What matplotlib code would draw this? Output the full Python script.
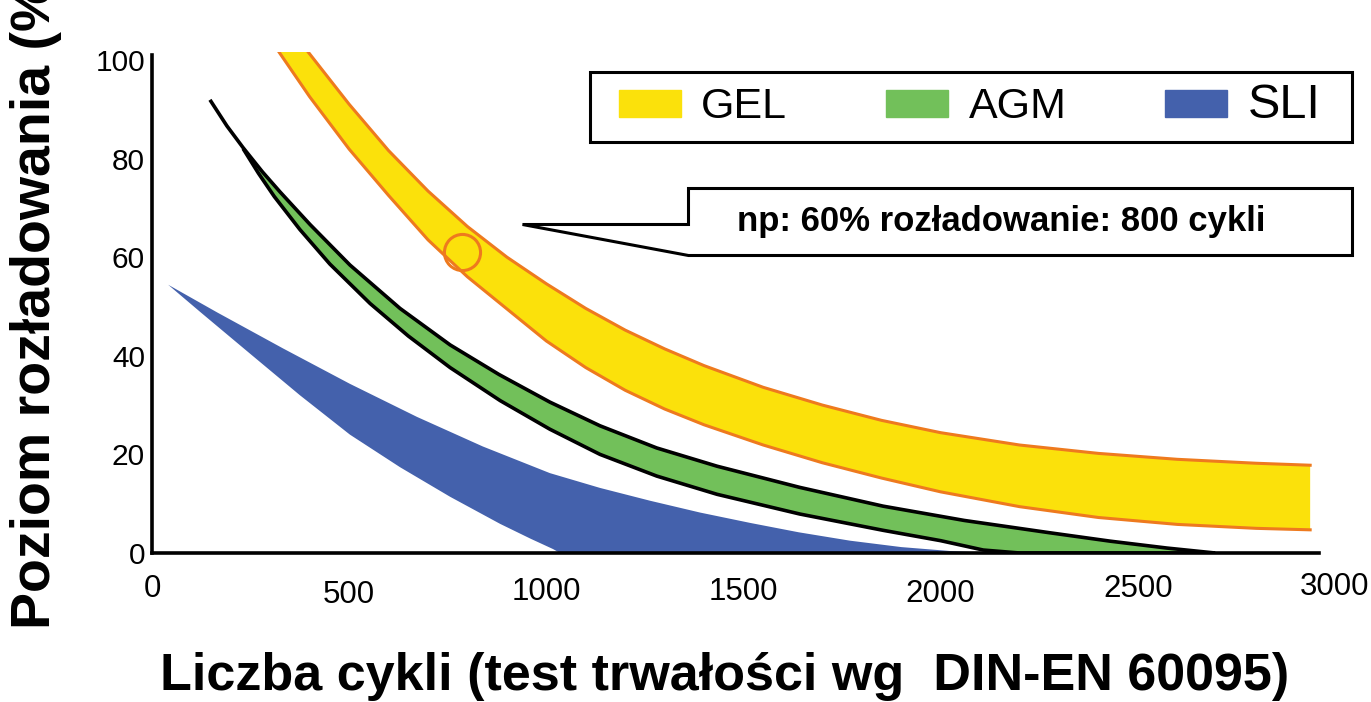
import matplotlib
matplotlib.use("Agg")
import matplotlib.pyplot as plt
from matplotlib.patches import Patch, Polygon, Rectangle

plt.rcParams["font.family"] = ["Liberation Sans", "DejaVu Sans"]

# (x: cykle, y: %)
gel_low_x = [322, 400, 500, 600, 700, 800, 900, 1000, 1100, 1200, 1300, 1400, 1550, 1700, 1850, 2000, 2200, 2400, 2600, 2800, 2937]
gel_low_y = [101.6, 92.5, 81.9, 72.5, 63.5, 56.0, 49.5, 43.0, 37.6, 33.0, 29.2, 26.0, 21.9, 18.3, 15.2, 12.4, 9.4, 7.2, 5.8, 5.0, 4.7]
gel_up_x = [396, 500, 600, 700, 800, 900, 1000, 1100, 1200, 1300, 1400, 1550, 1700, 1850, 2000, 2200, 2400, 2600, 2800, 2937]
gel_up_y = [101.6, 91.0, 81.6, 73.4, 66.2, 60.0, 54.6, 49.6, 45.2, 41.4, 38.0, 33.6, 30.0, 26.9, 24.4, 21.9, 20.2, 19.0, 18.2, 17.8]

agm_up_x = [147, 190, 231, 280, 325, 401, 502, 629, 756, 880, 1009, 1136, 1280, 1433, 1643, 1854, 2060, 2277, 2430, 2574, 2696]
agm_up_y = [91.9, 86.6, 82.2, 77.3, 73.2, 66.6, 58.4, 49.6, 42.2, 36.2, 30.6, 25.8, 21.3, 17.6, 13.3, 9.5, 6.6, 4.1, 2.4, 1.0, 0.0]
agm_low_x = [231, 270, 310, 375, 451, 553, 650, 756, 883, 1009, 1136, 1280, 1433, 1643, 1854, 2000, 2108, 2200, 2300, 2696]
agm_low_y = [82.0, 77.0, 72.3, 65.6, 58.6, 50.6, 44.0, 37.6, 30.9, 25.1, 20.0, 15.6, 11.9, 7.9, 4.6, 2.5, 0.6, 0.0, 0.0, 0.0]

sli_up_x = [41, 165, 332, 502, 672, 839, 1009, 1136, 1263, 1390, 1517, 1640, 1770, 1900, 2024, 2125]
sli_up_y = [54.4, 48.8, 41.5, 34.3, 27.6, 21.6, 16.2, 13.2, 10.6, 8.2, 6.1, 4.2, 2.5, 1.2, 0.4, 0.0]
sli_low_x = [41, 122, 249, 375, 502, 629, 756, 883, 960, 1017, 1035]
sli_low_y = [54.4, 48.9, 40.4, 32.0, 24.0, 17.4, 11.4, 5.9, 2.9, 0.8, 0.0]

# przykład: 60% -> 800 cykli
ex_x = 785
ex_y = 61

x_ticks = [0, 500, 1000, 1500, 2000, 2500, 3000]
y_ticks = [0, 20, 40, 60, 80, 100]
labels = ["GEL", "AGM", "SLI"]

YELLOW = "#FBE10B"
ORANGE = "#EE7A1E"
GREEN = "#72C05A"
BLUE = "#4461AC"

W, H = 1371, 702
fig = plt.figure(figsize=(W / 100, H / 100), dpi=100)
ax = fig.add_axes([152 / W, 1 - 553 / H, (1335 - 152) / W, (553 - 52) / H])
ax.set_xlim(0, 3000)
ax.set_ylim(0, 101.6)

# SLI
ax.fill(sli_up_x + sli_low_x[::-1], sli_up_y + sli_low_y[::-1], color=BLUE, lw=0, zorder=1)

# AGM
ax.fill(agm_up_x + agm_low_x[::-1], agm_up_y + agm_low_y[::-1], color=GREEN, lw=0, zorder=1)
ax.plot(agm_up_x, agm_up_y, color="black", lw=2.6, zorder=3, solid_capstyle="butt")
ax.plot(agm_low_x, agm_low_y, color="black", lw=2.6, zorder=3, solid_capstyle="butt")

# GEL
ax.fill(gel_up_x + gel_low_x[::-1], gel_up_y + gel_low_y[::-1], color=YELLOW, lw=0, zorder=1)
ax.plot(gel_up_x, gel_up_y, color=ORANGE, lw=2.2, zorder=3)
ax.plot(gel_low_x, gel_low_y, color=ORANGE, lw=2.2, zorder=3)
ax.plot([ex_x], [ex_y], marker="o", ms=26, mfc="none", mec=ORANGE, mew=2.2, zorder=4)

# osie
for s in ["top", "right"]:
    ax.spines[s].set_visible(False)
for s in ["left", "bottom"]:
    ax.spines[s].set_linewidth(2.6)
    ax.spines[s].set_zorder(5)
ax.spines["bottom"].set_bounds(0, 2960)
ax.spines["left"].set_bounds(0, 101)

ax.set_yticks(y_ticks)
ax.tick_params(axis="y", length=0, pad=5, labelsize=21.5)
ax.tick_params(axis="x", length=0, labelbottom=False)
ax.set_xticks([])

# podpisy osi x są trochę rozrzucone w pionie
x_tick_drop = [36, 42, 39, 39, 41, 36, 34]
for xt, d in zip(x_ticks, x_tick_drop):
    ax.annotate(str(xt), xy=(xt, 0), xycoords=("data", "axes fraction"),
                xytext=(0, -d), textcoords="offset pixels",
                ha="center", va="center", fontsize=22.5)

# legenda w ramce
fig.patches.append(Rectangle((590 / W, 1 - 142 / H), (1352 - 590) / W, 70 / H,
                             transform=fig.transFigure, fill=False,
                             edgecolor="black", lw=2.2))
handles = [Patch(color=YELLOW), Patch(color=GREEN), Patch(color=BLUE)]
leg = ax.legend(handles, labels, loc="center left",
                bbox_to_anchor=(619 / W, 1 - 106 / H), bbox_transform=fig.transFigure,
                ncol=3, frameon=False, fontsize=31, borderpad=0, borderaxespad=0,
                handlelength=1.44, handleheight=0.6, handletextpad=0.47,
                columnspacing=2.3)
leg.get_texts()[2].set_fontsize(35)

# dymek
ax_w, ax_h = 1335 - 152, 553 - 52
pts = [(522, 224), (688, 224), (688, 188), (1352, 188), (1352, 255), (688, 255)]
pts = [((px - 152) / ax_w, (553 - py) / ax_h) for px, py in pts]
ax.add_patch(Polygon(pts, closed=True, transform=ax.transAxes, facecolor="white",
                     edgecolor="black", lw=2.2, clip_on=False, zorder=6))
ax.text((1001 - 152) / ax_w, (553 - 222) / ax_h, "np: 60% rozładowanie: 800 cykli",
        transform=ax.transAxes, ha="center", va="center", fontsize=25,
        fontweight="bold", zorder=7)

fig.text(725 / W, 1 - 690 / H, "Liczba cykli (test trwałości wg  DIN-EN 60095)",
         ha="center", va="baseline", fontsize=37.5, fontweight="bold")
fig.text(36 / W, 1 - 629 / H, "Poziom rozładowania (%)", rotation=90,
         ha="center", va="bottom", fontsize=40, fontweight="bold")

fig.savefig("out.png", dpi=100)
